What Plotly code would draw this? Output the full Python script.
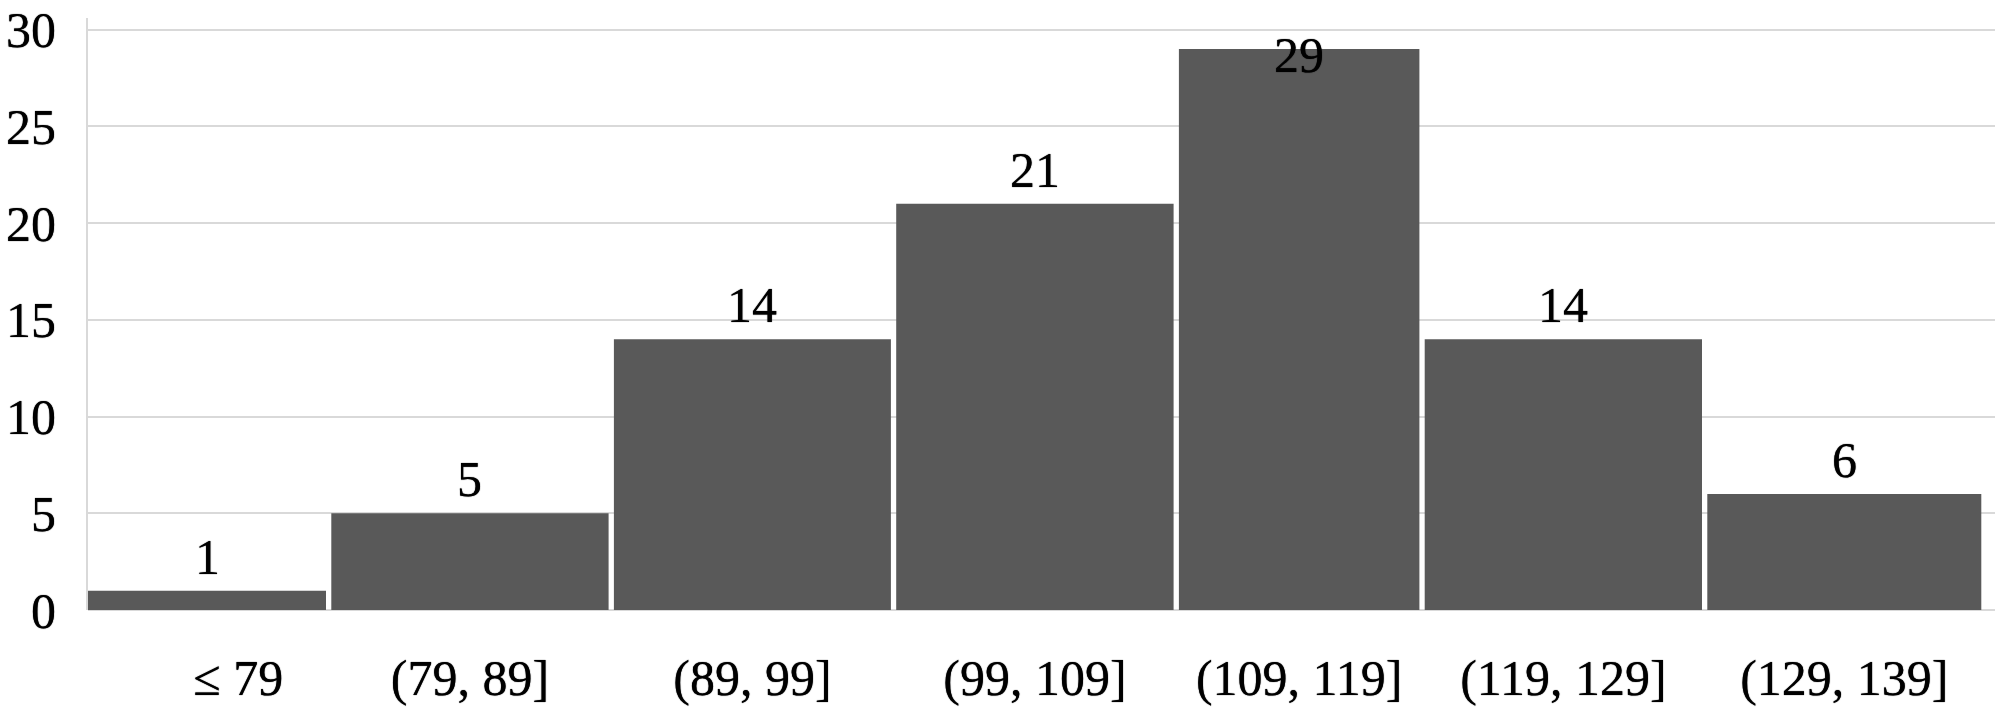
import plotly.graph_objects as go

# ---- data ----
categories = ["≤ 79", "(79, 89]", "(89, 99]", "(99, 109]", "(109, 119]", "(119, 129]", "(129, 139]"]
counts = [1, 5, 14, 21, 29, 14, 6]
y_ticks = [0, 5, 10, 15, 20, 25, 30]

# ---- layout / style (bar widths in hundreds of px, as in the reference) ----
bar_widths = [2.38, 2.773, 2.77, 2.774, 2.405, 2.773, 2.74]
gap = 0.053
x_end = 19.07
W, H = 2000, 711
m_l, m_r, m_t, m_b = 88, 5, 18, 101
y_max = 30
y_top = 30.6
font_family = "Liberation Serif, Times New Roman, serif"
shadow = "0px 0px 1px black"

# bar centres built from the widths
centers = []
edge = 0.0
for w in bar_widths:
    centers.append(edge + w / 2)
    edge += w + gap

fig = go.Figure()
fig.add_trace(go.Bar(
    x=centers, y=counts, width=bar_widths,
    marker=dict(color="#595959", line=dict(width=0)),
    hoverinfo="skip",
))

ppu = (H - m_t - m_b) / y_top
for c, v in zip(centers, counts):
    shift = min(34, (y_max - v) * ppu - 25)
    fig.add_annotation(
        x=c, y=v, text=str(v), showarrow=False, yanchor="middle",
        yshift=shift, font=dict(family=font_family, size=50, color="black", shadow=shadow),
    )

labels = list(categories)
labels[0] = "\u00a0" * 5 + labels[0]

fig.update_layout(
    width=W, height=H,
    margin=dict(l=m_l, r=m_r, t=m_t, b=m_b, pad=0),
    plot_bgcolor="white", paper_bgcolor="white",
    showlegend=False,
    xaxis=dict(
        range=[0, x_end], tickvals=centers, ticktext=labels,
        showgrid=False, zeroline=False, showline=False, ticks="",
        ticklabelstandoff=34, automargin=False, ticklabeloverflow="allow",
        tickfont=dict(family=font_family, size=50, color="black", shadow=shadow),
        fixedrange=True,
    ),
    yaxis=dict(
        range=[0, y_top], tickvals=y_ticks,
        showgrid=True, gridcolor="#d9d9d9", gridwidth=2,
        zeroline=True, zerolinecolor="#d9d9d9", zerolinewidth=2,
        showline=True, linecolor="#d9d9d9", linewidth=2,
        ticks="", ticklabelstandoff=20, automargin=False, ticklabeloverflow="allow",
        tickfont=dict(family=font_family, size=50, color="black", shadow=shadow),
        fixedrange=True,
    ),
)

fig.write_html(
    "out.html",
    config={"displayModeBar": False},
    post_script="document.body.style.margin='0';document.body.style.overflow='hidden';",
)
